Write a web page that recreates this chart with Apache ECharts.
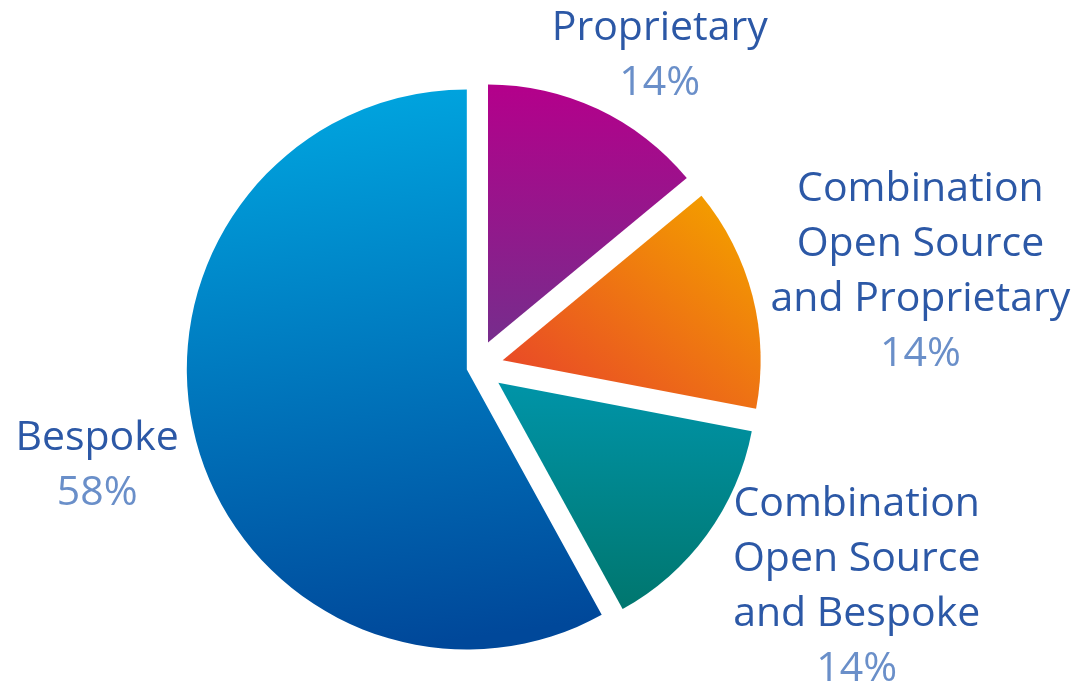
<!DOCTYPE html>
<html><head><meta charset="utf-8">
<script src="https://cdn.jsdelivr.net/npm/echarts@6/dist/echarts.min.js"></script>
<style>html,body{margin:0;padding:0;background:#fff}#c{width:1084px;height:685px}</style>
</head><body><div id="c"></div>
<script>
// ---- data ----
const categories = ['Proprietary', 'Combination\nOpen Source\nand Proprietary', 'Combination\nOpen Source\nand Bespoke', 'Bespoke'];
const values = [14, 14, 14, 58];

// ---- styles ----
const topColors = ['#b4008b', '#f39a00', '#0094a8', '#00a6e0'];
const bottomColors = ['#762d8c', '#e8442a', '#00766e', '#00489a'];
const gradDir = [[0, 0, 0, 1], [0.75, 0, 0.1, 1], [0, 0, 0, 1], [0.3, 0, 0.5, 1]];
const labelDist = [361, 454, 439, 392];
const labelTurn = [5.3, 2.3, -6, -0.2];
const CX = 476.5, CY = 367;
const FONT = 'Open Sans';

const total = values.reduce((a, b) => a + b, 0);
function bisector(i) {
  let s = 0;
  for (let k = 0; k < i; k++) s += values[k];
  return (s + values[i] / 2) / total * 360;
}
const clear = 'rgba(0,0,0,0)';
function grad(i) {
  const d = gradDir[i];
  return new echarts.graphic.LinearGradient(d[0], d[1], d[2], d[3], [
    { offset: 0, color: topColors[i] }, { offset: 1, color: bottomColors[i] }
  ]);
}
const smallData = categories.map((n, i) => ({
  name: n, value: values[i], selected: i < 3,
  itemStyle: { color: i < 3 ? grad(i) : clear }
}));
const bigData = categories.map((n, i) => ({
  name: n, value: values[i], selected: i === 3,
  itemStyle: { color: i === 3 ? grad(i) : clear }
}));
const labelData = categories.map((n, i) => ({ name: n, value: values[i], itemStyle: { color: clear } }));

const common = {
  type: 'pie', center: [CX, CY], startAngle: 90, clockwise: true,
  avoidLabelOverlap: false, animation: false, silent: true,
  label: { show: false }, labelLine: { show: false },
  emphasis: { disabled: true }
};

const chart = echarts.init(document.getElementById('c'), null, { renderer: 'canvas' });
chart.setOption({
  backgroundColor: '#ffffff',
  series: [
    Object.assign({}, common, { name: 'small', radius: [0, 258], selectedMode: 'multiple', selectedOffset: 27, data: smallData }),
    Object.assign({}, common, { name: 'big', radius: [0, 280], selectedMode: 'multiple', selectedOffset: 10, data: bigData }),
    Object.assign({}, common, {
      name: 'labels', radius: [0, 258], data: labelData,
      label: {
        show: true, position: 'outside', opacity: 1,
        formatter: p => '{n|' + p.name + '}\n{p|' + p.value + '%}',
        rich: {
          n: { fontFamily: FONT, fontSize: 41, color: '#2c58a6', lineHeight: 55, align: 'center' },
          p: { fontFamily: FONT, fontSize: 41, color: '#6a8fc9', lineHeight: 55, align: 'center' }
        }
      },
      labelLayout: function (p) {
        const i = p.dataIndex;
        const a = (bisector(i) + labelTurn[i]) * Math.PI / 180;
        return { x: CX + labelDist[i] * Math.sin(a), y: CY - labelDist[i] * Math.cos(a), align: 'center', verticalAlign: 'middle' };
      }
    })
  ]
});
</script></body></html>
